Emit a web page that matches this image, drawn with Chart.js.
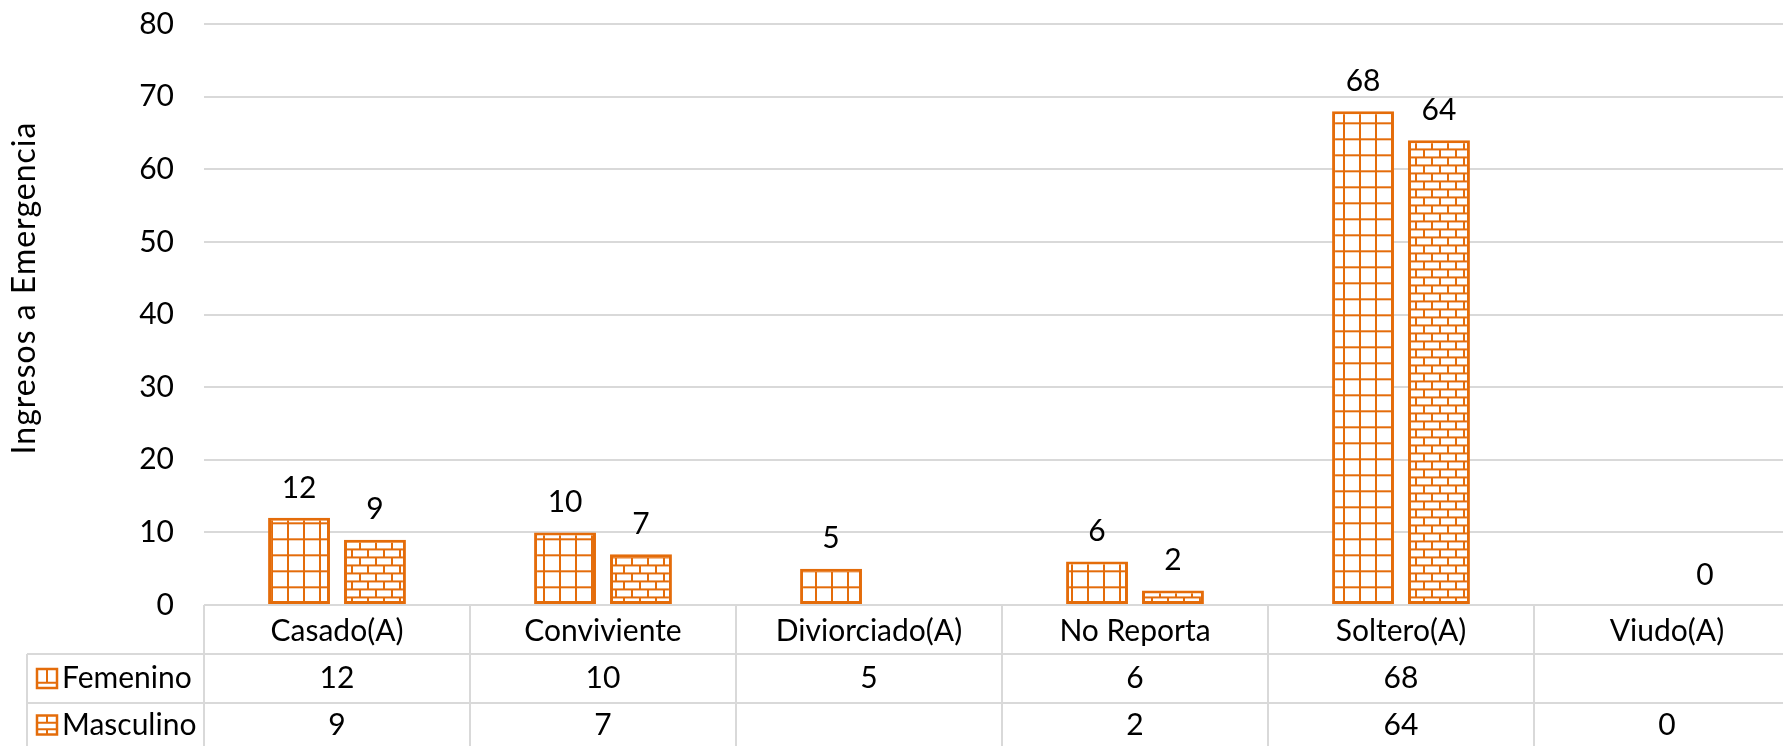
<!DOCTYPE html>
<html>
<head>
<meta charset="utf-8">
<script src="https://cdn.jsdelivr.net/npm/chart.js@4/dist/chart.umd.min.js"></script>
<style>
  html, body { margin: 0; padding: 0; background: #fff; overflow: hidden; }
  #wrap { width: 1810px; height: 746px; }
</style>
</head>
<body>
<div id="wrap"><canvas id="c" width="1810" height="746"></canvas></div>
<script>
const categories = ['Casado(A)', 'Conviviente', 'Diviorciado(A)', 'No Reporta', 'Soltero(A)', 'Viudo(A)'];
const seriesNames = ['Femenino', 'Masculino'];
const femenino = [12, 10, 5, 6, 68, null];
const masculino = [9, 7, null, 2, 64, 0];
const yMin = 0, yMax = 80, yStep = 10;
const axisTitle = 'Ingresos a Emergencia';

const ORANGE = '#E46C0A';
const GRID = '#d9d9d9';
const FONT = 'Lato, "Open Sans", sans-serif';
const FSIZE = 30;

const canvas = document.getElementById('c');
const ctx = canvas.getContext('2d');

function tile(drawFn) {
  const t = document.createElement('canvas');
  t.width = 16; t.height = 16;
  const c = t.getContext('2d');
  c.fillStyle = '#fff';
  c.fillRect(0, 0, 16, 16);
  c.fillStyle = ORANGE;
  drawFn(c);
  return t;
}
function gridPattern() {
  const t = tile(c => { c.fillRect(0, 0, 16, 2); c.fillRect(0, 0, 2, 16); });
  const p = ctx.createPattern(t, 'repeat');
  p.setTransform(new DOMMatrix().translate(-1, 10.3));
  return p;
}
function brickPattern() {
  const t = tile(c => {
    c.fillRect(0, 0, 16, 2);
    c.fillRect(0, 8, 16, 2);
    c.fillRect(0, 0, 2, 8);
    c.fillRect(8, 8, 2, 8);
  });
  const p = ctx.createPattern(t, 'repeat');
  p.setTransform(new DOMMatrix().translate(-1, 4.4));
  return p;
}
const patterns = [gridPattern(), brickPattern()];

const tablePlugin = {
  id: 'tablePlugin',
  afterDraw(chart) {
    const c = chart.ctx;
    const x = chart.scales.x;
    const area = chart.chartArea;
    const n = categories.length;
    const step = x.getPixelForValue(1) - x.getPixelForValue(0);
    const left = x.getPixelForValue(0) - step / 2;
    const right = x.getPixelForValue(n - 1) + step / 2;
    const base = area.bottom;
    const row1 = base + 49, row2 = base + 98, bottom = 760;
    const legLeft = 27;

    c.save();
    c.strokeStyle = GRID;
    c.lineWidth = 2;
    c.beginPath();
    c.moveTo(legLeft, row1); c.lineTo(right, row1);
    c.moveTo(legLeft, row2); c.lineTo(right, row2);
    c.moveTo(legLeft, row1); c.lineTo(legLeft, bottom);
    for (let i = 0; i <= n; i++) {
      const px = left + i * step;
      c.moveTo(px, base); c.lineTo(px, bottom);
    }
    c.stroke();

    c.fillStyle = '#000';
    c.font = FSIZE + 'px ' + FONT;
    c.textAlign = 'center';
    c.textBaseline = 'middle';
    const data = [femenino, masculino];
    const rowY = [row1 + 24.5, row2 + 22];
    for (let i = 0; i < n; i++) {
      const cx = x.getPixelForValue(i);
      c.fillText(categories[i], cx, base + 26);
      for (let s = 0; s < 2; s++) {
        const v = data[s][i];
        if (v !== null && v !== undefined) c.fillText(String(v), cx, rowY[s]);
      }
    }

    // legend keys
    c.textAlign = 'left';
    for (let s = 0; s < 2; s++) {
      const ky = rowY[s];
      const kx = 37, kw = 20, kh = 19;
      const top = ky - kh / 2;
      c.fillStyle = '#fff';
      c.fillRect(kx, top, kw, kh);
      c.strokeStyle = ORANGE;
      c.lineWidth = 2.5;
      c.strokeRect(kx, top, kw, kh);
      c.lineWidth = 2;
      c.beginPath();
      if (s === 0) {
        c.moveTo(kx + kw / 2, top); c.lineTo(kx + kw / 2, top + kh * 0.72);
        c.moveTo(kx, top + kh * 0.72); c.lineTo(kx + kw, top + kh * 0.72);
      } else {
        c.moveTo(kx, top + kh * 0.38); c.lineTo(kx + kw, top + kh * 0.38);
        c.moveTo(kx, top + kh * 0.72); c.lineTo(kx + kw, top + kh * 0.72);
        c.moveTo(kx + kw / 2, top); c.lineTo(kx + kw / 2, top + kh * 0.38);
        c.moveTo(kx + kw / 2, top + kh * 0.72); c.lineTo(kx + kw / 2, top + kh);
      }
      c.stroke();
      c.fillStyle = '#000';
      c.fillText(seriesNames[s], 62, ky);
    }

    // data labels above bars
    c.textAlign = 'center';
    chart.data.datasets.forEach((ds, di) => {
      const meta = chart.getDatasetMeta(di);
      meta.data.forEach((el, i) => {
        const v = ds.data[i];
        if (v === null || v === undefined) return;
        c.fillText(String(v), el.x, el.y - 30);
      });
    });

    // axis title
    c.save();
    c.translate(25, 288);
    c.rotate(-Math.PI / 2);
    c.font = '32px ' + FONT;
    if ('letterSpacing' in c) c.letterSpacing = '1px';
    c.fillText(axisTitle, 0, 0);
    c.restore();
    c.restore();
  }
};

new Chart(canvas, {
  type: 'bar',
  data: {
    labels: categories,
    datasets: [
      { label: seriesNames[0], data: femenino, backgroundColor: patterns[0], borderColor: ORANGE, borderWidth: 3, borderSkipped: false, barPercentage: 0.815, categoryPercentage: 0.571 },
      { label: seriesNames[1], data: masculino, backgroundColor: patterns[1], borderColor: ORANGE, borderWidth: 3, borderSkipped: false, barPercentage: 0.815, categoryPercentage: 0.571 }
    ]
  },
  options: {
    responsive: false,
    animation: false,
    devicePixelRatio: 1,
    layout: { padding: { left: 0, right: 10, top: 24, bottom: 0 } },
    plugins: { legend: { display: false }, tooltip: { enabled: false } },
    scales: {
      x: {
        grid: { display: false },
        border: { display: false },
        ticks: { display: false },
        afterFit(scale) { scale.height = 746 - 605; scale.paddingLeft = 0; scale.paddingRight = 0; }
      },
      y: {
        min: yMin, max: yMax,
        ticks: { stepSize: yStep, padding: 30, color: '#000', font: { family: FONT, size: FSIZE } },
        grid: { color: GRID, lineWidth: 2, drawTicks: false },
        border: { display: false },
        afterFit(scale) { scale.width = 204; scale.paddingTop = 0; scale.paddingBottom = 0; }
      }
    }
  },
  plugins: [tablePlugin]
});
</script>
</body>
</html>
